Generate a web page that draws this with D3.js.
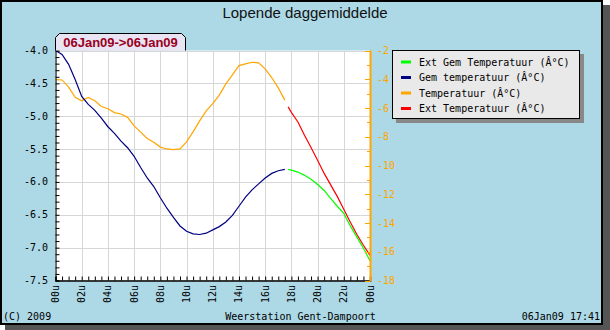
<!DOCTYPE html>
<html><head><meta charset="utf-8">
<script src="https://cdn.jsdelivr.net/npm/d3@7"></script>
<style>body{margin:0;background:#fff}svg{display:block}</style>
</head><body><svg id="c" width="610" height="330"></svg>
<script>
// ---- data ----
const histHours = [0,0.5,1,1.5,2,2.5,3,3.5,4,4.5,5,5.5,6,6.5,7,7.5,8,8.5,9,9.5,10,10.5,11,11.5,12,12.5,13,13.5,14,14.5,15,15.5,16,16.5,17,17.5];
const gemTemp = [-4.00,-4.06,-4.21,-4.44,-4.70,-4.82,-4.91,-5.03,-5.16,-5.26,-5.38,-5.48,-5.61,-5.78,-5.94,-6.07,-6.24,-6.40,-6.54,-6.67,-6.75,-6.79,-6.80,-6.78,-6.73,-6.68,-6.61,-6.51,-6.37,-6.23,-6.12,-6.03,-5.94,-5.87,-5.83,-5.81];
const temp = [-4.02,-4.05,-4.55,-5.25,-5.50,-5.26,-5.50,-5.90,-6.05,-6.32,-6.42,-6.65,-7.25,-7.68,-8.12,-8.38,-8.72,-8.85,-8.90,-8.84,-8.36,-7.66,-6.90,-6.20,-5.70,-5.10,-4.32,-3.70,-3.05,-2.93,-2.82,-2.86,-3.28,-3.88,-4.60,-5.45];
const extHours = [17.75,18,18.5,19,19.5,20,20.5,21,21.5,22,22.5,23,23.5,24];
const extGemTemp = [-5.81,-5.82,-5.85,-5.90,-5.96,-6.04,-6.13,-6.25,-6.37,-6.48,-6.67,-6.84,-7.01,-7.20];
const extTemp = [-5.92,-6.30,-6.97,-7.90,-8.75,-9.64,-10.55,-11.35,-12.15,-13.05,-13.95,-14.80,-15.55,-16.25];

const leftTicks = [-4.0,-4.5,-5.0,-5.5,-6.0,-6.5,-7.0,-7.5];
const rightTicks = [-2,-4,-6,-8,-10,-12,-14,-16,-18];
const xTickHours = [0,2,4,6,8,10,12,14,16,18,20,22,24];
const xTickLabels = ["00u","02u","04u","06u","08u","10u","12u","14u","16u","18u","20u","22u","00u"];

const legendNames = ["Ext Gem Temperatuur (Â°C)","Gem temperatuur (Â°C)","Temperatuur (Â°C)","Ext Temperatuur (Â°C)"];
const legendColors = ["#00ff00","#000080","#ffa500","#ff0000"];

const titleText = "Lopende daggemiddelde";
const rangeText = "06Jan09->06Jan09";
const footLeft = "(C) 2009", footMid = "Weerstation Gent-Dampoort", footRight = "06Jan09 17:41";

// ---- layout ----
const svg = d3.select("#c");
const L = 55.5, R = 370, T = 50.5, B = 280.5;
const mono = "'DejaVu Sans Mono', monospace";

const x = d3.scaleLinear().domain([0,24]).range([L,R]);
const yL = d3.scaleLinear().domain([-7.5,-4.0]).range([B,T]);
const yR = d3.scaleLinear().domain([-18,-2]).range([B,T]);

// frame
svg.append("rect").attr("x",5).attr("y",5).attr("width",605).attr("height",325).attr("fill","#555");
svg.append("rect").attr("x",1).attr("y",1).attr("width",601).attr("height",323)
  .attr("fill","#add8e6").attr("stroke","#000").attr("stroke-width",2);

svg.append("text").attr("x",305).attr("y",18).attr("text-anchor","middle")
  .attr("font-family","'Liberation Sans', Arial, sans-serif").attr("font-size",15).attr("fill","#111").text(titleText);

// plot bg
svg.append("rect").attr("x",L).attr("y",T).attr("width",R-L).attr("height",B-T).attr("fill","#fff");

// grid
const g = svg.append("g");
g.selectAll(".hg").data(leftTicks).join("line")
  .attr("x1",L).attr("x2",R).attr("y1",d=>Math.round(yL(d))+0.5).attr("y2",d=>Math.round(yL(d))+0.5)
  .attr("stroke","#d6d6d6");
g.selectAll(".vg").data(xTickHours).join("line")
  .attr("x1",d=>Math.round(x(d))+0.5).attr("x2",d=>Math.round(x(d))+0.5).attr("y1",T).attr("y2",B)
  .attr("stroke","#d6d6d6");

// lines
const lineL = (hs) => d3.line().x((d,i)=>x(hs[i])).y(d=>yL(d));
const lineR = (hs) => d3.line().x((d,i)=>x(hs[i])).y(d=>yR(d));
svg.append("path").datum(temp).attr("d",lineR(histHours)).attr("fill","none").attr("stroke","#ffa500").attr("stroke-width",1.2);
svg.append("path").datum(extTemp).attr("d",lineR(extHours)).attr("fill","none").attr("stroke","#ff0000").attr("stroke-width",1.2);
svg.append("path").datum(gemTemp).attr("d",lineL(histHours)).attr("fill","none").attr("stroke","#000080").attr("stroke-width",1.2);
svg.append("path").datum(extGemTemp).attr("d",lineL(extHours)).attr("fill","none").attr("stroke","#00ff00").attr("stroke-width",1.2);

// left axis
const leftAxis = d3.axisRight(yL).tickValues(d3.range(-7.5,-3.95,0.1)).tickSize(4).tickFormat("");
const la = svg.append("g").attr("transform",`translate(${L},0)`).call(leftAxis);
la.select(".domain").attr("stroke","#000");
la.selectAll(".tick line").attr("stroke","#000");
svg.selectAll(".ll").data(leftTicks).join("text")
  .attr("x",48).attr("y",d=>yL(d)).attr("dy","0.35em").attr("text-anchor","end")
  .attr("font-family",mono).attr("font-size",10).attr("fill","#000").text(d=>d.toFixed(1));

// bottom axis
const bottomAxis = d3.axisTop(x).tickValues(d3.range(0,24.01,0.5)).tickSize(4).tickFormat("");
const ba = svg.append("g").attr("transform",`translate(0,${B})`).call(bottomAxis);
ba.select(".domain").attr("stroke","#000").attr("stroke-width",1.5);
ba.selectAll(".tick line").attr("stroke","#000");
svg.selectAll(".bl").data(xTickHours).join("text")
  .attr("transform",(d)=>`translate(${x(d)},285) rotate(-90)`)
  .attr("dy","0.35em").attr("text-anchor","end")
  .attr("font-family",mono).attr("font-size",10).attr("fill","#000")
  .text((d,i)=>xTickLabels[i]);

// right axis
const rightMinor = d3.range(-18,-1.5,1);
const ra = svg.append("g");
ra.selectAll("line").data(rightMinor).join("line")
  .attr("x1",d=>(d%2===0)?R-5:R-3).attr("x2",R).attr("y1",d=>Math.round(yR(d))+0.5).attr("y2",d=>Math.round(yR(d))+0.5)
  .attr("stroke","#ffa500");
svg.append("line").attr("x1",R+0.5).attr("x2",R+0.5).attr("y1",T).attr("y2",B+1).attr("stroke","#ffa500").attr("stroke-width",2);
svg.selectAll(".rl").data(rightTicks).join("text")
  .attr("x",377).attr("y",d=>yR(d)).attr("dy","0.35em")
  .attr("font-family",mono).attr("font-size",10).attr("fill","#ffa500").text(d=>String(d));

// range tab
const tab = svg.append("g");
tab.append("path").attr("d","M55.5,50.5 L55.5,37.5 L59.5,33.5 L181.5,33.5 L185.5,37.5 L185.5,50.5")
  .attr("fill","#e8e4f4").attr("stroke","#000");
tab.append("text").attr("x",120.5).attr("y",46.5).attr("text-anchor","middle")
  .attr("font-family","'Liberation Sans', Arial, sans-serif").attr("font-weight","bold").attr("font-size",13)
  .attr("fill","#990022").text(rangeText);

// legend
const lg = svg.append("g");
lg.append("rect").attr("x",396).attr("y",54).attr("width",188).attr("height",69).attr("fill","#888");
lg.append("rect").attr("x",392.5).attr("y",50.5).attr("width",187).attr("height",68).attr("fill","#e9e9e9").attr("stroke","#000");
const rows = [62,77.5,93,108.5];
lg.selectAll(".sw").data(legendNames).join("line")
  .attr("x1",401).attr("x2",411).attr("y1",(d,i)=>rows[i]).attr("y2",(d,i)=>rows[i])
  .attr("stroke",(d,i)=>legendColors[i]).attr("stroke-width",3);
lg.selectAll(".lt").data(legendNames).join("text")
  .attr("x",419).attr("y",(d,i)=>rows[i]).attr("dy","0.35em")
  .attr("font-family",mono).attr("font-size",10).attr("fill","#000").text(d=>d);

// footer
svg.append("text").attr("x",3).attr("y",320).attr("font-family",mono).attr("font-size",10).text(footLeft);
svg.append("text").attr("x",300.5).attr("y",320).attr("text-anchor","middle").attr("font-family",mono).attr("font-size",10).text(footMid);
svg.append("text").attr("x",600).attr("y",320).attr("text-anchor","end").attr("font-family",mono).attr("font-size",10).text(footRight);
</script></body></html>
